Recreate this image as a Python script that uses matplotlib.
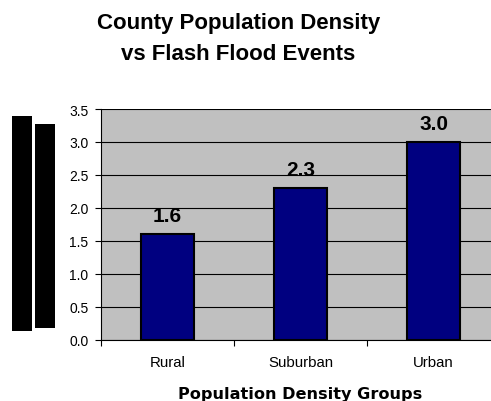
import matplotlib
matplotlib.use("Agg")
import matplotlib.pyplot as plt
from matplotlib.patches import Rectangle

categories = ["Rural", "Suburban", "Urban"]
values = [1.6, 2.3, 3.0]
yticks = [0.0, 0.5, 1.0, 1.5, 2.0, 2.5, 3.0, 3.5]

plt.rcParams['font.family'] = ['Liberation Sans', 'DejaVu Sans']

fig = plt.figure(figsize=(4.91, 4.02), dpi=100)
fig.patch.set_facecolor('white')

# axes: left 101px, right 500px, top 110px, bottom 341px
ax = fig.add_axes([101/491, (402-341)/402, 399/491, 231/402])
ax.set_facecolor('#C0C0C0')

x = list(range(len(categories)))
ax.bar(x, values, width=0.4, color='#000080', edgecolor='black', linewidth=1.5, zorder=3)

for xi, v in zip(x, values):
    ax.annotate(f"{v:.1f}", (xi, v), xytext=(0, 9.5), textcoords='offset points',
                ha='center', va='baseline', fontsize=15, fontweight='bold')

ax.set_xlim(-0.5, len(categories) - 0.5)
ax.set_ylim(0, 3.5)
ax.set_yticks(yticks)
ax.set_yticklabels([f"{t:.1f}" for t in yticks], fontsize=10)
ax.yaxis.grid(True, color='black', linewidth=0.8, zorder=0)
ax.set_axisbelow(True)

ax.set_xticks([i - 0.5 for i in range(len(categories) + 1)])
ax.set_xticklabels([])
ax.set_xticks(x, minor=True)
ax.set_xticklabels(categories, minor=True, fontsize=10.8)
ax.tick_params(axis='x', which='major', length=4, width=0.8, direction='out')
ax.tick_params(axis='x', which='minor', length=0, pad=11)
ax.tick_params(axis='y', length=4, width=0.8, direction='out', pad=5)

for s in ['top', 'right']:
    ax.spines[s].set_visible(False)
for s in ['left', 'bottom']:
    ax.spines[s].set_color('black')
    ax.spines[s].set_linewidth(0.8)

ax.set_xlabel("Population Density Groups", fontsize=11.6, fontweight='bold',
              family=['DejaVu Sans'], labelpad=12)

fig.text(238.5/491, 1 - 29/402, "County Population Density", ha='center', va='baseline',
         fontsize=16, fontweight='bold')
fig.text(238.5/491, 1 - 60/402, "vs Flash Flood Events", ha='center', va='baseline',
         fontsize=16, fontweight='bold')

fig.add_artist(Rectangle((12/491, (402-332)/402), 20/491, 215/402,
                         transform=fig.transFigure, facecolor='black', edgecolor='none'))
fig.add_artist(Rectangle((35/491, (402-328.5)/402), 20/491, 203.5/402,
                         transform=fig.transFigure, facecolor='black', edgecolor='none'))

fig.savefig("out.png", dpi=100)
